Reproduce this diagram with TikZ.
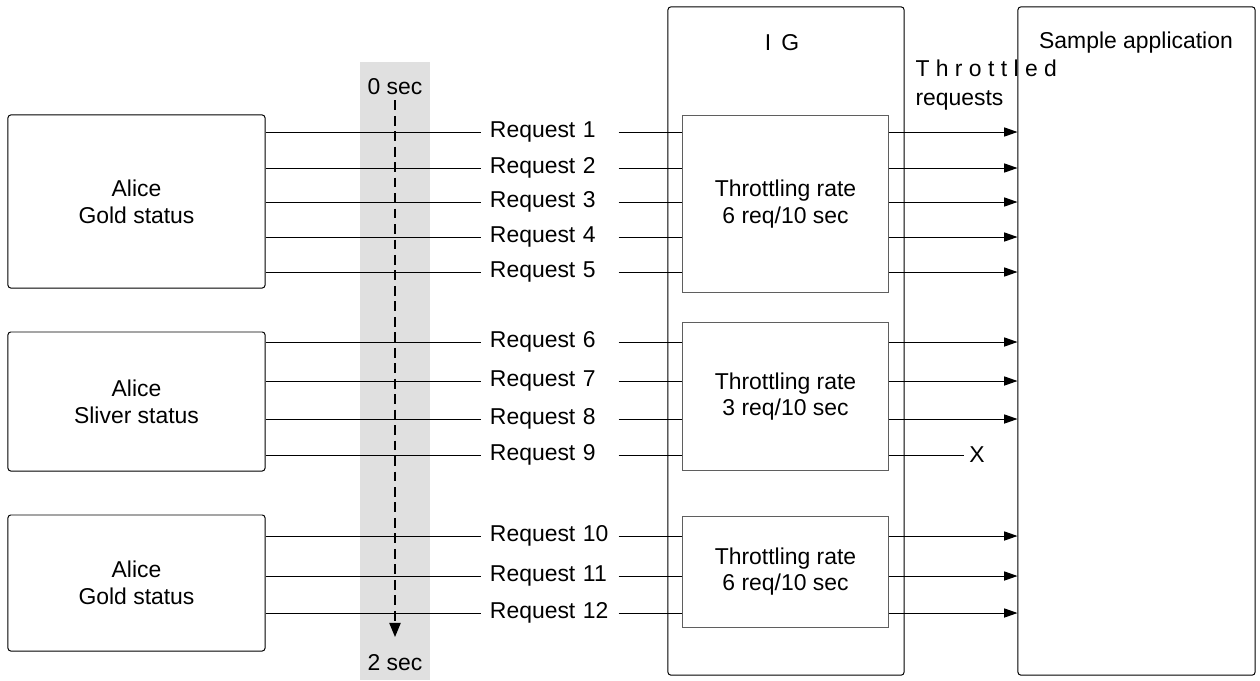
\documentclass[tikz,border=0pt]{standalone}
\usepackage{fontspec}
\setmainfont{Liberation Sans}
\usetikzlibrary{positioning, arrows.meta}
\definecolor{bandagris}{RGB}{224, 224, 224}
\definecolor{bordegris}{RGB}{95, 95, 95}

\begin{document}
\begin{tikzpicture}[x=0.025cm, y=-0.025cm, line width=0.7pt,
    font=\fontsize{16.3}{19}\selectfont,
    caja/.style={draw, rounded corners=2pt, align=center, inner sep=0pt},
    filtro/.style={draw=bordegris, align=center, minimum width=5.125cm},
    peticion/.style={inner xsep=0.2cm, inner ysep=0pt, text width=3cm, align=left},
    flecha/.style={-{Triangle[length=9.5pt, width=6.5pt]}}]
        \useasboundingbox (0,0) rectangle (1260,680);
        % linea de tiempo
        \fill[bandagris] (360,62) rectangle (430,680);
        \node (t0) at (395,87) {0 sec};
        \node (t2) at (395,663) {2 sec};
        \coordinate (tfin) at (395,637);
        \draw[line width=1pt, dash pattern=on 7pt off 4pt, -{Triangle[length=10pt, width=8pt]}] (t0.south) -- (tfin);
        % usuarios
        \node[caja, minimum width=6.425cm, minimum height=4.325cm] (alice1) at (136.5,201.5) {Alice\\Gold status};
        \node[caja, minimum width=6.425cm, minimum height=3.475cm] (alice2) at (136.5,401.5) {Alice\\Sliver status};
        \node[caja, minimum width=6.425cm, minimum height=3.4cm]   (alice3) at (136.5,583)   {Alice\\Gold status};
        % IG y aplicacion
        \node[caja, minimum width=5.9cm, minimum height=16.7cm]   (ig)  at (786,341)    {};
        \node (igtit) at (782,43) {I\, G};
        \node[caja, minimum width=5.925cm, minimum height=16.7cm] (app) at (1136.5,341) {};
        \node (apptit) at (1136,43) {Sample application};
        \node[anchor=west, align=left, font=\fontsize{16.3}{21}\selectfont, inner sep=0pt] (thr) at (915,85) {T h r o t t l e d\\requests};
        % filtros
        \node[filtro, minimum height=4.4cm]   (f1) at (785.5,204)   {Throttling rate\\6 req/10 sec};
        \node[filtro, minimum height=3.675cm] (f2) at (785.5,396.5) {Throttling rate\\3 req/10 sec};
        \node[filtro, minimum height=2.775cm] (f3) at (785.5,571.5) {Throttling rate\\6 req/10 sec};
        \node (x) at (977,455) {X};
        % peticiones
        \foreach \n/\y/\src/\dst in {1/132/alice1/f1, 2/168/alice1/f1, 3/202/alice1/f1,
                4/237/alice1/f1, 5/272/alice1/f1, 6/342/alice2/f2, 7/381/alice2/f2,
                8/419/alice2/f2, 9/455/alice2/f2, 10/536/alice3/f3, 11/576/alice3/f3,
                12/613/alice3/f3} {
            \node[peticion] (r\n) at (550,\y) {Request \n};
            \draw (\src.east |- r\n) -- (r\n.west);
            \draw (r\n.east) -- (\dst.west |- r\n);
        }
        \foreach \n/\dst in {1/f1, 2/f1, 3/f1, 4/f1, 5/f1, 6/f2, 7/f2, 8/f2, 10/f3, 11/f3, 12/f3}
            \draw[flecha] (\dst.east |- r\n) -- (app.west |- r\n);
        \draw (f2.east |- r9) -- (x.west);
      \end{tikzpicture}
\end{document}
